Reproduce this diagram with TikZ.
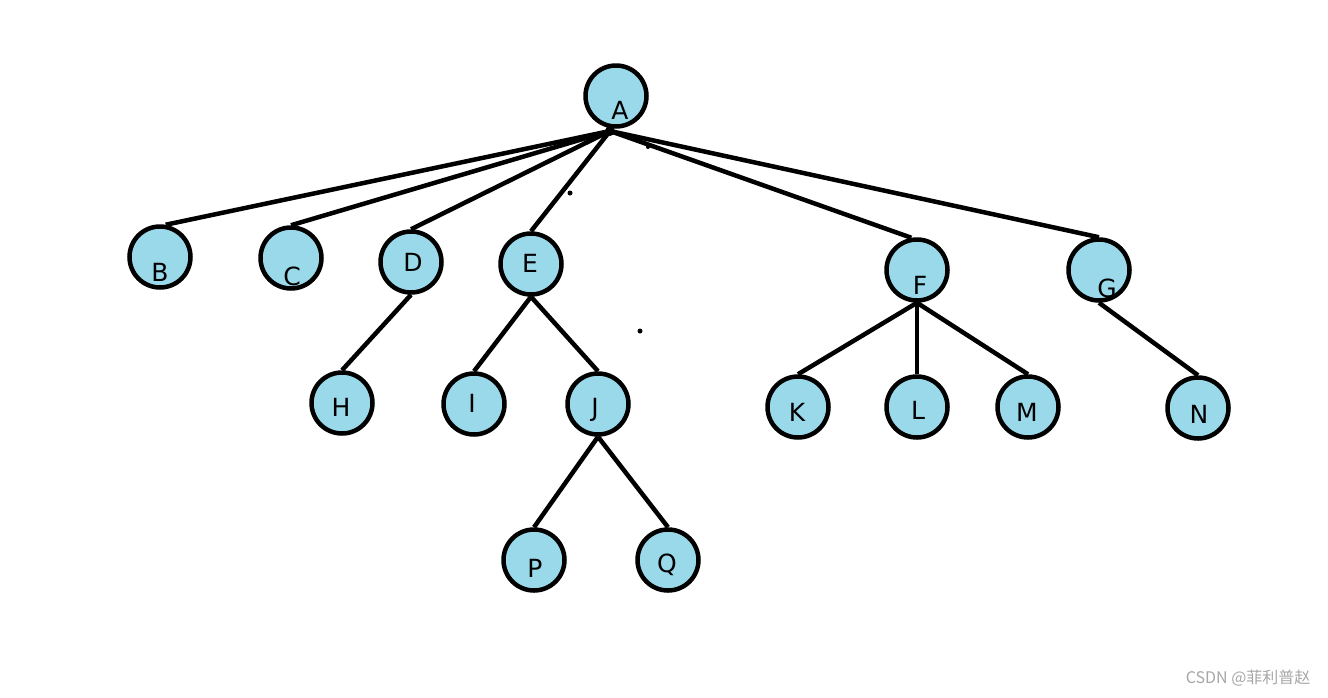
\documentclass[tikz,border=0pt]{standalone}
\usepackage{fontspec}
\setmainfont{DejaVu Sans}
\newfontfamily\cjkfont{Noto Sans CJK SC}
\definecolor{nodeblue}{RGB}{153,217,234}
\begin{document}
\begin{tikzpicture}[x=1pt, y=-1pt,
  vert/.style={draw, circle, line width=4.5pt, fill=nodeblue, minimum size=61pt, inner sep=0pt},
  lbl/.style={font=\fontsize{25}{28}\selectfont, inner sep=0pt},
  edge/.style={line width=4.5pt}]
\useasboundingbox (0,0) rectangle (1328,697);
\node[vert] at (616,96) (A) {};
\node[vert] at (160,257) (B) {};
\node[vert] at (291,258) (C) {};
\node[vert] at (411,262) (D) {};
\node[vert] at (531,264) (E) {};
\node[vert] at (917,270) (F) {};
\node[vert] at (1099,270) (G) {};
\node[vert] at (342,403) (H) {};
\node[vert] at (474,404) (I) {};
\node[vert] at (598,404) (J) {};
\node[vert] at (798,407) (K) {};
\node[vert] at (917,407) (L) {};
\node[vert] at (1028,407) (M) {};
\node[vert] at (1198,408) (N) {};
\node[vert] at (534,560) (P) {};
\node[vert] at (668,560) (Q) {};

\node[lbl] at (620,110) (lA) {A};
\node[lbl] at (160,272) (lB) {B};
\node[lbl] at (292,276) (lC) {C};
\node[lbl] at (413,262) (lD) {D};
\node[lbl] at (530,263) (lE) {E};
\node[lbl] at (920,285) (lF) {F};
\node[lbl] at (1107,288) (lG) {G};
\node[lbl] at (341,407) (lH) {H};
\node[lbl] at (472,403) (lI) {I};
\node[lbl] at (595,410) (lJ) {J};
\node[lbl] at (797,412) (lK) {K};
\node[lbl] at (918,410) (lL) {L};
\node[lbl] at (1027,412) (lM) {M};
\node[lbl] at (1199,414) (lN) {N};
\node[lbl] at (535,568) (lP) {P};
\node[lbl] at (667,565) (lQ) {Q};

\coordinate (root) at (610,131);
\draw[edge] (root) -- (B.80);
\draw[edge] (root) -- (C.north);
\draw[edge] (root) -- (D.north);
\draw[edge] (root) -- (E.north);
\draw[edge] (root) -- (F.100);
\draw[edge] (root) -- (G.north);
\draw[edge] (D.south) -- (H.north);
\draw[edge] (E.south) -- (I.north);
\draw[edge] (E.south) -- (J.north);
\draw[edge] (J.south) -- (P.north);
\draw[edge] (J.south) -- (Q.north);
\draw[edge] (F.south) -- (K.north);
\draw[edge] (F.south) -- (L.north);
\draw[edge] (F.south) -- (M.north);
\draw[edge] (G.south) -- (N.north);
\fill (root) circle (5);

% stray dots
\fill (570,193) circle (2.5);
\fill (640,331) circle (2.5);
\fill (648,147) circle (2);

\node[anchor=east, text=gray!70, font=\cjkfont\fontsize{16}{18}\selectfont] at (1314,678) (mark) {CSDN @菲利普赵};
\end{tikzpicture}
\end{document}
